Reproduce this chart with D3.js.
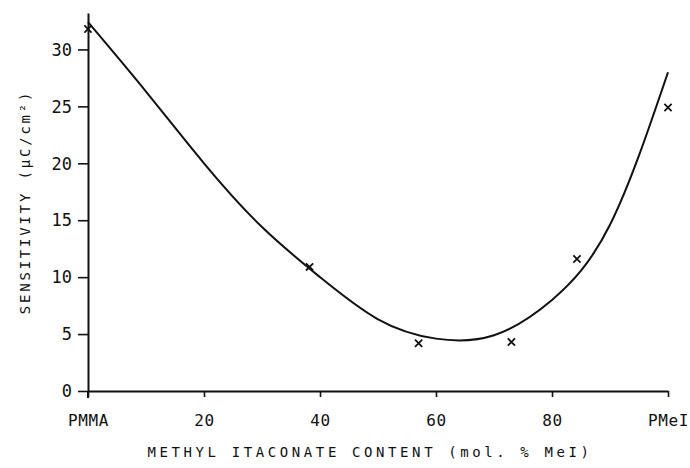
<!DOCTYPE html>
<html>
<head>
<meta charset="utf-8">
<script src="https://cdn.jsdelivr.net/npm/d3@7"></script>
<style>
  body { margin: 0; background: #fff; }
  text { font-family: "DejaVu Sans Mono", monospace; fill: #111; }
</style>
</head>
<body>
<script>
// measured points (mol. % MeI, sensitivity)
const pointX = [0, 38.2, 57, 73, 84.3, 100]
const pointY = [31.8, 10.9, 4.2, 4.3, 11.6, 24.9]

// hand-drawn fit curve
const fitX = [0, 10, 20, 30, 40, 50, 60, 70, 80, 90, 100]
const fitY = [32.4, 26.3, 20.0, 14.4, 10.0, 6.3, 4.6, 4.9, 8.0, 14.6, 28.0]

const xTicks = [0, 20, 40, 60, 80, 100]
const xTickLabels = ['PMMA', '20', '40', '60', '80', 'PMeI']
const yTicks = [0, 5, 10, 15, 20, 25, 30]

const width = 690
const height = 468

const x = d3.scaleLinear().domain([0, 100]).range([88, 668])
const y = d3.scaleLinear().domain([0, 33.2]).range([391, 13])

const svg = d3.select('body').append('svg')
  .attr('width', width).attr('height', height)

// y axis
const yAxis = svg.append('g')
  .attr('transform', 'translate(' + x(0) + ',0)')
  .call(d3.axisLeft(y).tickValues(yTicks).tickSize(10).tickPadding(6).tickSizeOuter(0))
yAxis.select('.domain').attr('stroke', '#111').attr('stroke-width', 2)
yAxis.selectAll('.tick line').attr('stroke', '#111').attr('stroke-width', 1.6)
yAxis.selectAll('.tick text')
  .attr('font-size', 17).attr('dy', '0.34em')

// extend the y axis a bit below zero, like the original
svg.append('line')
  .attr('x1', x(0)).attr('x2', x(0))
  .attr('y1', y(0)).attr('y2', y(0) + 7)
  .attr('stroke', '#111').attr('stroke-width', 2)

// x axis
const xAxis = svg.append('g')
  .attr('transform', 'translate(0,' + y(0) + ')')
  .call(d3.axisBottom(x).tickValues(xTicks).tickFormat((d, i) => xTickLabels[i])
    .tickSize(6).tickPadding(18).tickSizeOuter(0))
xAxis.select('.domain').attr('stroke', '#111').attr('stroke-width', 2)
xAxis.selectAll('.tick line').attr('stroke', '#111').attr('stroke-width', 1.6)
xAxis.selectAll('.tick text').attr('font-size', 16).attr('letter-spacing', 0.6)

// axis titles
svg.append('text')
  .attr('x', (x(0) + x(100)) / 2 - 8)
  .attr('y', 457)
  .attr('text-anchor', 'middle')
  .attr('font-size', 14)
  .attr('letter-spacing', 3.6)
  .text('METHYL ITACONATE CONTENT (mol. % MeI)')

svg.append('text')
  .attr('transform', 'translate(30,202) rotate(-90)')
  .attr('text-anchor', 'middle')
  .attr('font-size', 14)
  .attr('letter-spacing', 2.8)
  .text('SENSITIVITY (μC/cm²)')

// fit curve
const line = d3.line()
  .x(i => x(fitX[i]))
  .y(i => y(fitY[i]))
  .curve(d3.curveNatural)

svg.append('path')
  .attr('d', line(d3.range(fitX.length)))
  .attr('fill', 'none')
  .attr('stroke', '#111')
  .attr('stroke-width', 2)

// x markers
const s = 3.6
svg.selectAll('.pt')
  .data(d3.range(pointX.length))
  .enter()
  .append('path')
  .attr('class', 'pt')
  .attr('d', i => {
    const cx = x(pointX[i]), cy = y(pointY[i])
    return 'M' + (cx - s) + ',' + (cy - s) + 'L' + (cx + s) + ',' + (cy + s) +
           'M' + (cx - s) + ',' + (cy + s) + 'L' + (cx + s) + ',' + (cy - s)
  })
  .attr('stroke', '#111')
  .attr('stroke-width', 1.8)
</script>
</body>
</html>
